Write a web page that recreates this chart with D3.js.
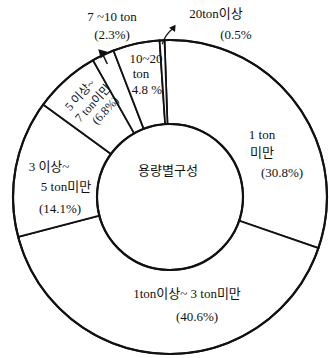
<!DOCTYPE html>
<html>
<head>
<meta charset="utf-8">
<script src="https://cdn.jsdelivr.net/npm/d3@7"></script>
<style>
  body { margin: 0; background: #fff; }
  text { font-family: "Liberation Serif", "Noto Sans CJK KR", serif; font-size: 13px; fill: #111; }
</style>
</head>
<body>
<div id="chart"></div>
<script>
// data
var categories = ["1 ton 미만", "1ton이상~3ton미만", "3이상~5ton미만", "5이상~7ton미만", "7~10ton", "10~20ton", "20ton이상"];
var shares = [30.8, 40.6, 14.1, 6.8, 2.3, 4.8, 0.5];
var labelLines = [
    ["1 ton", "미만", "(30.8%)"],
    ["1ton이상~ 3 ton미만", "(40.6%)"],
    ["3 이상~", "5 ton미만", "(14.1%)"],
    ["5 이상~", "7 ton이만", "(6.8%)"],
    ["7 ~10 ton", "(2.3%)"],
    ["10~20", "ton", "4.8 %"],
    ["20ton이상", "(0.5%"]
];
var centerTitle = "용량별구성";

var width = 329, height = 358;
var cx = 170, cy = 197, outerR = 157, innerR = 73;

// where each label block sits (x, y of first line, line step, rotation)
var labelLayout = [
    {x: 262, y: 134, step: [0, 18, 20], dx: [0, 0, 20]},
    {x: 187, y: 293, step: [0, 23], dx: [0, 10]},
    {x: 49, y: 166, step: [0, 20, 22], dx: [0, 17, 11]},
    {x: 80, y: 95, step: [0, 15, 14], dx: [0, 3, 6], rotate: -47, size: 12},
    {x: 112, y: 16, step: [0, 18], dx: [0, 0]},
    {x: 146, y: 58, step: [0, 15, 16], dx: [0, -5, 1]},
    {x: 216, y: 13, step: [0, 21], dx: [0, 20]}
];

var svg = d3.select("#chart").append("svg")
    .attr("width", width)
    .attr("height", height);

var g = svg.append("g")
    .attr("transform", "translate(" + cx + "," + cy + ")");

var offset = -2 * Math.PI / 180;
var pie = d3.pie()
    .value(function(d) { return d; })
    .sort(null)
    .startAngle(offset)
    .endAngle(2 * Math.PI + offset);

var arc = d3.arc()
    .innerRadius(innerR)
    .outerRadius(outerR);

var slices = pie(shares);

g.selectAll("path.slice")
    .data(slices)
  .enter().append("path")
    .attr("class", "slice")
    .attr("d", arc)
    .attr("fill", "#fff")
    .attr("stroke", "#111")
    .attr("stroke-width", 1.8)
    .attr("stroke-linejoin", "miter");

// heavier outer and inner rings
g.append("circle").attr("r", outerR).attr("fill", "none").attr("stroke", "#111").attr("stroke-width", 2.2);
g.append("circle").attr("r", innerR).attr("fill", "none").attr("stroke", "#111").attr("stroke-width", 2.2);

g.append("text")
    .attr("x", -2)
    .attr("y", -27)
    .attr("text-anchor", "middle")
    .attr("dominant-baseline", "central")
    .text(centerTitle);

// labels
labelLines.forEach(function(lines, i) {
    var L = labelLayout[i];
    var lg = svg.append("g")
        .attr("transform", "translate(" + L.x + "," + L.y + ")" + (L.rotate ? " rotate(" + L.rotate + ")" : ""));
    var yy = 0;
    lines.forEach(function(t, j) {
        yy += L.step[j];
        lg.append("text")
            .attr("x", L.dx[j])
            .attr("y", yy)
            .attr("text-anchor", "middle")
            .attr("dominant-baseline", "central")
            .style("font-size", L.size ? L.size + "px" : null)
            .text(t);
    });
});

// pointer for 7~10 ton slice
var s7 = slices[4];
var mid7 = (s7.startAngle + s7.endAngle) / 2;
function polar(a, r) { return [cx + r * Math.sin(a), cy - r * Math.cos(a)]; }
var p0 = polar(mid7, outerR - 10), p1 = polar(mid7, outerR + 2);
svg.append("line")
    .attr("x1", p0[0]).attr("y1", p0[1])
    .attr("x2", p1[0]).attr("y2", p1[1])
    .attr("stroke", "#111").attr("stroke-width", 1.5);
svg.append("path")
    .attr("d", d3.symbol().type(d3.symbolTriangle).size(40))
    .attr("transform", "translate(" + p1[0] + "," + p1[1] + ") rotate(" + (mid7 * 180 / Math.PI - 20) + ")")
    .attr("fill", "#111");

// arrow for 20ton slice
var s20 = slices[6];
var mid20 = (s20.startAngle + s20.endAngle) / 2;
var a0 = polar(mid20, outerR - 4);
var a1 = [a0[0] + 11, a0[1] - 16];
svg.append("path")
    .attr("d", "M" + a0[0] + "," + a0[1] + " Q" + (a0[0] + 3) + "," + (a0[1] - 10) + " " + a1[0] + "," + a1[1])
    .attr("fill", "none")
    .attr("stroke", "#111")
    .attr("stroke-width", 1.3);
svg.append("path")
    .attr("d", d3.symbol().type(d3.symbolTriangle).size(22))
    .attr("transform", "translate(" + a1[0] + "," + a1[1] + ") rotate(35)")
    .attr("fill", "#111");
</script>
</body>
</html>
